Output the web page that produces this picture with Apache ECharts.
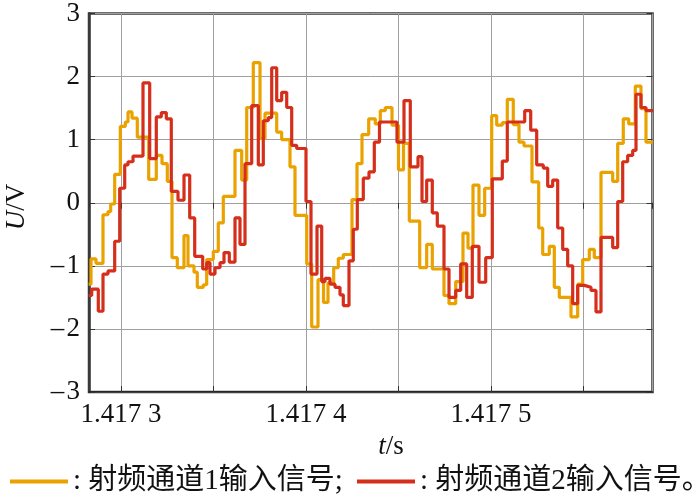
<!DOCTYPE html>
<html>
<head>
<meta charset="utf-8">
<script src="https://cdn.jsdelivr.net/npm/echarts@6/dist/echarts.min.js"></script>
<style>
html,body{margin:0;padding:0;background:#fff;}
#c{width:700px;height:499px;}
</style>
</head>
<body>
<div id="c"></div>
<script>
// ---- data (time in s, value in V) ----
const seriesNames = ['射频通道1输入信号', '射频通道2输入信号'];
const times1 = [1.4172825,1.41728378,1.41728649,1.41729027,1.41729297,1.41729443,1.41729659,1.41729962,1.41730232,1.41730378,1.41730595,1.41730881,1.41731497,1.41731908,1.41732216,1.41732503,1.41732757,1.41733043,1.41733405,1.41733622,1.41733946,1.41734124,1.41734449,1.41734632,1.41734989,1.41735259,1.4173553,1.41736162,1.41736524,1.41736795,1.41737151,1.41737514,1.41737784,1.41738416,1.41738686,1.41739135,1.41739405,1.41740038,1.41740308,1.41740649,1.41740946,1.41741189,1.41741497,1.41741746,1.41742016,1.41742486,1.41742757,1.41743027,1.41743389,1.41743746,1.41744016,1.41744286,1.41744649,1.41745,1.4174527,1.41745584,1.41746146,1.41746524,1.41746827,1.41747459,1.4174773,1.41748092,1.41748486,1.41748757,1.41749027,1.41749351,1.41749659,1.41750038,1.41750308,1.41750611,1.41750881,1.41751205,1.41751514,1.41751784,1.41752216,1.41752578,1.41752795,1.41753151,1.41753422,1.41753692,1.41754324,1.41754686,1.41754957,1.41755314,1.41755584,1.41755946,1.41756578,1.41756849,1.41757151,1.41757443,1.417578,1.41758108,1.41758378,1.41758757];
const values1 = [-1.29,-0.89,-0.96,-0.19,-0.14,-0.02,0.45,1.21,1.28,1.44,1.34,1.04,0.37,0.75,0.62,0.34,-0.87,-1.03,-0.52,-1.0,-1.10,-1.34,-1.30,-0.90,-0.77,-0.32,0.10,0.83,0.36,1.51,2.22,1.02,1.42,1.12,1.0,0.57,-0.2,-0.97,-1.97,-1.22,-1.58,-1.27,-1.03,-0.88,-0.82,0.05,0.62,1.08,1.33,1.25,1.46,1.51,1.23,0.52,0.94,-0.29,-1.03,-0.66,-1.05,-1.47,-1.6,-1.25,-0.48,-0.72,0.28,-0.2,0.23,1.38,1.23,1.27,1.64,1.24,0.96,0.9,0.33,-0.40,-0.82,-0.69,-1.34,-1.50,-1.81,-1.29,-0.9,-0.74,-0.87,0.48,0.34,0.94,1.33,1.25,1.85,1.49,0.96,0.96];
const times2 = [1.4172825,1.41728416,1.41728773,1.41729027,1.41729297,1.41729659,1.4172993,1.417302,1.41730378,1.41730649,1.41731189,1.41731551,1.41731908,1.41732178,1.41732449,1.41732719,1.41733081,1.41733405,1.41733714,1.41733984,1.41734416,1.41734632,1.41734811,1.41735081,1.41735351,1.41735568,1.41735854,1.41736162,1.41736432,1.41736703,1.41737065,1.41737422,1.41737692,1.41737962,1.41738146,1.41738416,1.41738686,1.41738957,1.41739227,1.41739497,1.4174,1.4174027,1.41740595,1.41740849,1.41741027,1.41741297,1.41741568,1.41741838,1.41742016,1.41742324,1.41742557,1.41742773,1.41743097,1.41743405,1.41743692,1.41743973,1.41744919,1.41745297,1.41745638,1.41746054,1.4174627,1.41746524,1.41746827,1.41747097,1.41747459,1.4174773,1.41748092,1.41748362,1.41748686,1.41748989,1.41749351,1.41749714,1.4175007,1.41750611,1.41750881,1.41751822,1.41752146,1.4175247,1.41752827,1.41753065,1.41753335,1.41753605,1.41753876,1.41754146,1.41754416,1.41754686,1.41755043,1.41755405,1.41755676,1.41755946,1.41756578,1.41756849,1.41757119,1.41757389,1.41757659,1.41757838,1.41758108,1.41758378,1.41758757];
const values2 = [-1.47,-1.37,-1.72,-1.13,-1.08,-0.61,0.23,0.6,0.65,0.74,1.9,0.7,1.36,1.43,1.33,0.18,0.04,0.44,-0.24,-0.85,-1.05,-0.95,-1.13,-1.03,-0.95,-0.79,-0.94,-0.24,-0.66,0.62,1.54,0.6,1.3,1.35,2.14,1.62,1.75,1.51,0.91,0.86,0.02,-1.13,-0.37,-1.25,-1.2,-1.29,-1.34,-1.46,-1.63,-0.92,-0.42,0.05,0.39,0.49,0.96,1.28,0.96,1.62,0.57,0.73,0.02,0.36,-0.16,-0.37,-1.05,-1.5,-1.39,-0.97,-1.5,-0.69,-1.26,-0.87,0.38,0.66,1.28,1.46,1.15,0.6,0.55,0.26,0.36,-0.4,-0.74,-1.0,-1.6,-1.31,-1.34,-1.39,-1.73,-0.55,-0.71,0.02,0.65,0.75,0.83,1.72,1.51,1.46,1.46];
const xTickValues = [1.4173, 1.4174, 1.4175];
const xTickLabels = ['1.417 3', '1.417 4', '1.417 5'];
const yTickValues = [-3, -2, -1, 0, 1, 2, 3];
const yTickLabels = ['–\u200A3', '–\u200A2', '–\u200A1', '0', '1', '2', '3'];
const xMin = 1.4172827, xMax = 1.4175873;

const colors = ['#E9A200', '#D52F1C'];
const serif = '"Liberation Serif", "Times New Roman", serif';
const cjk = '"Liberation Serif", "Noto Sans CJK SC", serif';

function zip(t, v) { return t.map((x, i) => [x, v[i]]); }
function xFmt(v) {
  for (let i = 0; i < xTickValues.length; i++) {
    if (Math.abs(v - xTickValues[i]) < 1e-9) return xTickLabels[i];
  }
  return '';
}
function yFmt(v) {
  const i = yTickValues.indexOf(Math.round(v));
  return (i >= 0 && Math.abs(v - Math.round(v)) < 1e-9) ? yTickLabels[i] : '';
}
function legendAt(left, idx) {
  return {
    left: left, top: 467, padding: 0, itemWidth: 58, itemHeight: 4, itemGap: 0, icon: 'rect',
    data: [seriesNames[idx]],
    formatter: function (name) { return ': ' + name + (idx === 0 ? ';' : '。'); },
    textStyle: { fontFamily: cjk, fontSize: 29, color: '#111' },
    selectedMode: false
  };
}

const chart = echarts.init(document.getElementById('c'), null, { renderer: 'canvas' });
const gridLine = { show: true, lineStyle: { color: '#a0a0a0', width: 1 } };
chart.setOption({
  animation: false,
  backgroundColor: '#fff',
  grid: { left: 89, top: 10, right: 47.5, bottom: 107, show: true, borderColor: '#3a3a3a', borderWidth: 2.5, backgroundColor: 'transparent' },
  xAxis: [{
    type: 'value', min: xMin, max: xMax, splitNumber: 6, minInterval: 0.00005, maxInterval: 0.00005,
    axisLine: { show: true, onZero: false, lineStyle: { color: '#222', width: 1.5 } },
    axisTick: { show: true, inside: true, length: 6, lineStyle: { color: '#333' } },
    axisLabel: { show: true, formatter: xFmt, color: '#111', fontFamily: serif, fontSize: 27, margin: 9, showMinLabel: false, showMaxLabel: false },
    splitLine: gridLine
  }, {
    type: 'value', position: 'top', min: xMin, max: xMax, splitNumber: 6, minInterval: 0.00005, maxInterval: 0.00005,
    axisLine: { show: false }, axisTick: { show: true, inside: true, length: 6, lineStyle: { color: '#333' } },
    axisLabel: { show: false }, splitLine: { show: false }
  }],
  yAxis: [{
    type: 'value', min: -3, max: 3, interval: 1,
    axisLine: { show: true, onZero: false, lineStyle: { color: '#3a3a3a', width: 2.5 } },
    axisTick: { show: true, inside: true, length: 6, lineStyle: { color: '#333' } },
    axisLabel: { formatter: yFmt, color: '#111', fontFamily: serif, fontSize: 27, margin: 9 },
    splitLine: gridLine
  }, {
    type: 'value', position: 'right', min: -3, max: 3, interval: 1,
    axisLine: { show: false }, axisTick: { show: true, inside: true, length: 6, lineStyle: { color: '#333' } },
    axisLabel: { show: false }, splitLine: { show: false }
  }],
  legend: [legendAt(10, 0), legendAt(357, 1)],
  graphic: [
    { type: 'text', x: 17, y: 207, rotation: Math.PI / 2,
      style: { text: '{i|U}/V', align: 'center', verticalAlign: 'middle', fill: '#111', font: '27px ' + serif,
        rich: { i: { fontStyle: 'italic', fontFamily: serif, fontSize: 27, fill: '#111' } } } },
    { type: 'text', x: 391, y: 447,
      style: { text: '{i|t}/s', align: 'center', verticalAlign: 'middle', fill: '#111', font: '27px ' + serif,
        rich: { i: { fontStyle: 'italic', fontFamily: serif, fontSize: 27, fill: '#111' } } } }
  ],
  series: [
    { name: seriesNames[0], type: 'line', step: 'end', showSymbol: false, symbol: 'none', clip: true,
      data: zip(times1, values1), lineStyle: { color: colors[0], width: 3.2 }, itemStyle: { color: colors[0] }, z: 2 },
    { name: seriesNames[1], type: 'line', step: 'end', showSymbol: false, symbol: 'none', clip: true,
      data: zip(times2, values2), lineStyle: { color: colors[1], width: 3.2 }, itemStyle: { color: colors[1] }, z: 3 }
  ]
});
</script>
</body>
</html>
